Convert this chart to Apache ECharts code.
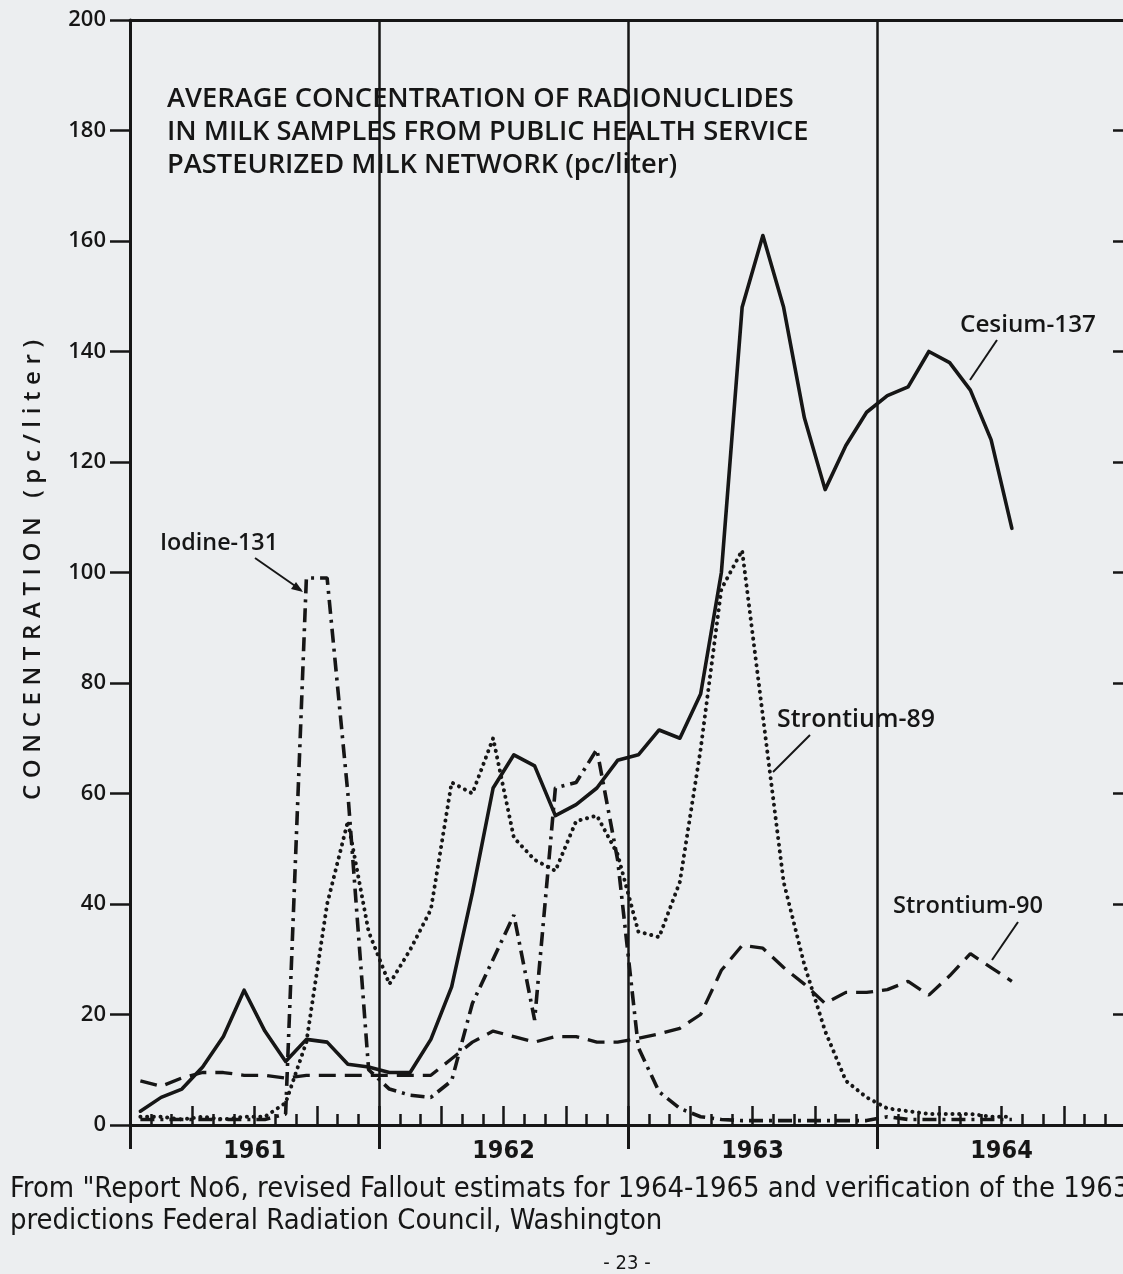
<!DOCTYPE html>
<html><head><meta charset="utf-8">
<script src="https://cdn.jsdelivr.net/npm/echarts@6/dist/echarts.min.js"></script>
<style>html,body{margin:0;padding:0;background:#eceef0;}#c{width:1123px;height:1274px;}</style>
</head><body><div id="c"></div>
<script>
// ---- data (monthly averages, pc/liter; month index 0 = Jan 1961) ----
const years = ['1961', '1962', '1963', '1964'];
const yTicks = [0, 20, 40, 60, 80, 100, 120, 140, 160, 180, 200];
const cesium137 = [2.5, 5, 6.5, 10.5, 16, 24.4, 17, 11.5, 15.5, 15, 11, 10.5, 9.5, 9.5, 15.5, 25, 42, 61, 67, 65, 56, 58, 61, 66, 67, 71.5, 70, 78, 100, 148, 161, 148, 128, 115, 123, 129, 132, 133.6, 140, 138, 133, 124, 108];
const strontium90 = [8, 7, 8.5, 9.5, 9.5, 9, 9, 8.5, 9, 9, 9, 9, 9, 9, 9, 12, 15, 17, 16, 15, 16, 16, 15, 15, 15.7, 16.5, 17.5, 20, 28, 32.5, 32, 28.5, 25.5, 22, 24, 24, 24.5, 26, 23.5, 27, 31, 28.5, 26];
const strontium89 = [1.5, 1.5, 1, 1.5, 1, 1.5, 1.5, 4, 15, 40, 55, 35, 25.5, 31.7, 39, 62, 60, 70, 52, 48, 46, 55, 56, 49, 35, 34, 44, 68, 97, 104, 74, 44, 29, 17, 8, 5, 3, 2.5, 2, 2, 2, 1.5, 1.5];
const iodine131 = [1, 1, 1, 1, 1, 1, 1, 2, 99, 99, 60, 10, 6.5, 5.4, 5, 8, 22, 30, 38, 19, 61, 62, 68, 48, 14, 6, 3, 1.5, 1, 0.8, 0.8, 0.8, 0.8, 0.8, 0.8, 0.8, 1.5, 1, 1, 1, 1, 1, 1];
const titleLines = ['AVERAGE CONCENTRATION OF RADIONUCLIDES', 'IN MILK SAMPLES FROM PUBLIC HEALTH SERVICE', 'PASTEURIZED MILK NETWORK (pc/liter)'];
const footerLines = ['From "Report No6, revised Fallout estimats for 1964-1965 and verification of the 1963', 'predictions Federal Radiation Council, Washington'];
const yAxisName = 'CONCENTRATION (pc/liter)';

// ---- helpers ----
const INK = '#161616';
const FUT = "'Open Sans', 'DejaVu Sans', sans-serif";
const COND = "'DejaVu Sans Condensed', 'DejaVu Sans', sans-serif";
const cv = document.createElement('canvas').getContext('2d');
function fit(text, family, weight, w) { cv.font = weight + ' 100px ' + family; return 100 * w / cv.measureText(text).width; }
const pairs = arr => arr.map((v, i) => [i + 0.5, v]);

const titleSize = fit(titleLines[0], FUT, 600, 627);
const footSize = fit(footerLines[0], COND, 'normal', 1120);

function label(text, x, y, w) {
  return { type: 'text', x: x, y: y, silent: true, style: { text: text, font: '600 ' + fit(text, FUT, 600, w).toFixed(2) + 'px ' + FUT, fill: INK, align: 'left', verticalAlign: 'middle' } };
}
function leader(x1, y1, x2, y2) {
  return { type: 'line', silent: true, shape: { x1, y1, x2, y2 }, style: { stroke: INK, lineWidth: 2 } };
}
// letter-spaced vertical axis name (reads bottom to top)
function spacedVertical(text, cx, yBottom, yTop, font) {
  cv.font = font;
  const chars = text.split('');
  const ws = chars.map(c => cv.measureText(c).width);
  const total = ws.reduce((a, b) => a + b, 0);
  const gap = ((yBottom - yTop) - total) / (chars.length - 1);
  const out = [];
  let pos = 0;
  chars.forEach((c, i) => {
    if (c !== ' ') {
      out.push({ type: 'text', x: cx, y: yBottom - (pos + ws[i] / 2), rotation: Math.PI / 2, silent: true,
        style: { text: c, font: font, fill: INK, align: 'center', verticalAlign: 'middle' } });
    }
    pos += ws[i] + gap;
  });
  return out;
}

const chart = echarts.init(document.getElementById('c'));
const base = { min: 0, max: 48, type: 'value', gridIndex: 0 };
chart.setOption({
  animation: false,
  backgroundColor: '#eceef0',
  grid: { left: 130, top: 20, width: 996, height: 1105, containLabel: false, outerBoundsMode: 'none' },
  xAxis: [
    Object.assign({}, base, { position: 'bottom', interval: 12,
      axisLine: { show: true, onZero: false, lineStyle: { color: INK, width: 3 } },
      axisTick: { show: true, inside: false, length: 24, lineStyle: { color: INK, width: 3 } },
      axisLabel: { show: false },
      splitLine: { show: true, showMaxLine: false, lineStyle: { color: INK, width: 2.5 } } }),
    Object.assign({}, base, { position: 'bottom', interval: 1,
      axisLine: { show: false, onZero: false }, axisTick: { show: true, inside: true, length: 11, lineStyle: { color: INK, width: 2.5 } },
      axisLabel: { show: false }, splitLine: { show: false } }),
    Object.assign({}, base, { position: 'bottom', interval: 3,
      axisLine: { show: false, onZero: false }, axisTick: { show: true, inside: true, length: 19, lineStyle: { color: INK, width: 2.5 } },
      axisLabel: { show: false }, splitLine: { show: false } }),
    Object.assign({}, base, { position: 'top', interval: 12,
      axisLine: { show: true, onZero: false, lineStyle: { color: INK, width: 3 } }, axisTick: { show: false },
      axisLabel: { show: false }, splitLine: { show: false } }),
    Object.assign({}, base, { position: 'bottom', interval: 6,
      axisLine: { show: false, onZero: false }, axisTick: { show: false }, splitLine: { show: false },
      axisLabel: { show: true, margin: 14, color: INK, fontFamily: COND, fontWeight: 'bold', fontSize: 25,
        formatter: v => (v % 12 === 6 ? years[Math.floor(v / 12)] : '') } })
  ],
  yAxis: [
    { type: 'value', min: 0, max: 200, interval: 20, position: 'left',
      axisLine: { show: true, onZero: false, lineStyle: { color: INK, width: 3 } },
      axisTick: { show: true, inside: false, length: 20, lineStyle: { color: INK, width: 2.5 } },
      axisLabel: { show: true, margin: 24, color: INK, fontFamily: FUT, fontWeight: 600, fontSize: 22,
        formatter: v => (yTicks.indexOf(v) >= 0 ? String(v) : '') },
      splitLine: { show: false } },
    { type: 'value', min: 0, max: 200, interval: 20, position: 'right',
      axisLine: { show: false, onZero: false }, axisTick: { show: true, inside: true, length: 13, lineStyle: { color: INK, width: 2.5 } },
      axisLabel: { show: false }, splitLine: { show: false } }
  ],
  series: [
    { type: 'line', name: 'Cesium-137', data: pairs(cesium137), showSymbol: false, smooth: false,
      lineStyle: { color: INK, width: 3.6, type: 'solid', join: 'round', cap: 'round' } },
    { type: 'line', name: 'Strontium-90', data: pairs(strontium90), showSymbol: false,
      lineStyle: { color: INK, width: 3.3, type: [17, 9], cap: 'butt' } },
    { type: 'line', name: 'Strontium-89', data: pairs(strontium89), showSymbol: false,
      lineStyle: { color: INK, width: 4, type: [0.1, 6.6], cap: 'round' } },
    { type: 'line', name: 'Iodine-131', data: pairs(iodine131), showSymbol: false,
      lineStyle: { color: INK, width: 3.6, type: [14, 6, 3, 6], cap: 'butt' } }
  ],
  graphic: [
    { type: 'text', x: 167, y: 99, silent: true, style: { text: titleLines[0], font: '600 ' + titleSize.toFixed(2) + 'px ' + FUT, fill: INK, verticalAlign: 'middle' } },
    { type: 'text', x: 167, y: 132, silent: true, style: { text: titleLines[1], font: '600 ' + titleSize.toFixed(2) + 'px ' + FUT, fill: INK, verticalAlign: 'middle' } },
    { type: 'text', x: 167, y: 165, silent: true, style: { text: titleLines[2], font: '600 ' + titleSize.toFixed(2) + 'px ' + FUT, fill: INK, verticalAlign: 'middle' } },
    label('Iodine-131', 160, 543, 118),
    label('Cesium-137', 960, 325, 136),
    label('Strontium-89', 777, 720, 158),
    label('Strontium-90', 893, 906, 150),
    leader(255, 558, 301, 590),
    { type: 'polygon', silent: true, shape: { points: [[303, 592], [291, 589], [296, 582]] }, style: { fill: INK } },
    leader(997, 340, 970, 380),
    leader(810, 735, 773, 772),
    leader(1018, 922, 992, 960),
    { type: 'text', x: 10, y: 1189, silent: true, style: { text: footerLines[0], font: footSize.toFixed(2) + 'px ' + COND, fill: INK, verticalAlign: 'middle' } },
    { type: 'text', x: 10, y: 1221, silent: true, style: { text: footerLines[1], font: footSize.toFixed(2) + 'px ' + COND, fill: INK, verticalAlign: 'middle' } },
    { type: 'text', x: 627, y: 1264, silent: true, style: { text: '- 23 -', font: '20px ' + COND, fill: INK, align: 'center', verticalAlign: 'middle' } }
  ].concat(spacedVertical(yAxisName, 33, 800, 340, '600 24px ' + FUT))
});
</script>
</body></html>
